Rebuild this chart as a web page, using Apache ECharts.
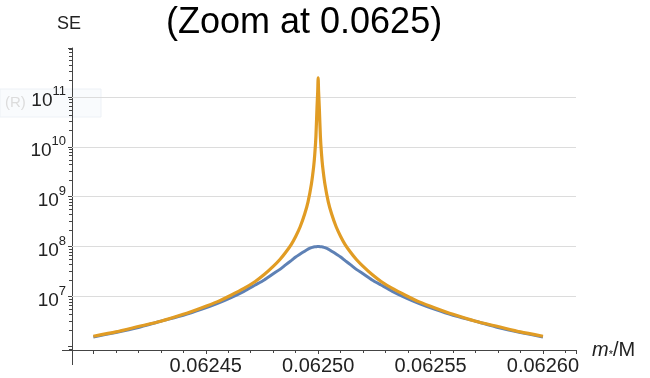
<!DOCTYPE html>
<html>
<head>
<meta charset="utf-8">
<script src="https://cdn.jsdelivr.net/npm/echarts@6/dist/echarts.min.js"></script>
<style>
	html, body { margin: 0; padding: 0; background: #fff; }
	#chart { width: 650px; height: 378px; }
</style>
</head>
<body>
<div id="chart"></div>
<script>
// distance from the centre 0.0625, in units of 1e-5 (curve is symmetric)
const offsets = [0, 0.02, 0.05, 0.1, 0.15, 0.2, 0.3, 0.45, 0.6, 0.8, 1.0, 1.2, 1.45, 1.7, 2.0, 2.4, 2.8, 3.3, 3.9, 4.5, 5.2, 6.0, 7.0, 8.0, 9.0, 10];
// SE values at those offsets
const seOrange = [2.4e11, 1.26e11, 6.3e10, 1.6e10, 7.1e9, 4.0e9, 1.8e9, 7.9e8, 4.5e8, 2.5e8, 1.6e8, 1.1e8, 7.6e7, 5.5e7, 4.0e7, 2.75e7, 2.0e7, 1.45e7, 1.05e7, 7.8e6, 5.9e6, 4.4e6, 3.2e6, 2.5e6, 1.95e6, 1.6e6];
const seBlue = [1.0e8, 1.0e8, 1.0e8, 9.9e7, 9.9e7, 9.8e7, 9.5e7, 8.9e7, 8.1e7, 7.1e7, 6.2e7, 5.25e7, 4.3e7, 3.5e7, 2.85e7, 2.15e7, 1.7e7, 1.27e7, 9.4e6, 7.2e6, 5.5e6, 4.2e6, 3.2e6, 2.4e6, 1.9e6, 1.55e6];
const centre = 0.0625;
const xTicks = [0.0624, 0.06245, 0.0625, 0.06255, 0.0626];
const xTickLabels = ['', '0.06245', '0.06250', '0.06255', '0.06260'];
const yTicks = [1e7, 1e8, 1e9, 1e10, 1e11];

// mirror the half curve around the centre
function curve(vals) {
	const pts = [];
	for (let i = offsets.length - 1; i > 0; i--) pts.push([centre - offsets[i] * 1e-5, vals[i]]);
	for (let i = 0; i < offsets.length; i++) pts.push([centre + offsets[i] * 1e-5, vals[i]]);
	return pts;
}

const myChart = echarts.init(document.getElementById('chart'));
const axisColor = '#444';
const font = 'Liberation Sans, Arial, sans-serif';

const option = {
	animation: false,
	title: {
		text: '(Zoom at 0.0625)',
		left: 161,
		top: 0,
		textStyle: { fontSize: 36, fontWeight: 'normal', color: '#000', fontFamily: font },
	},
	grid: { left: 72, right: 74, top: 48, bottom: 28 },
	xAxis: {
		type: 'value',
		min: 0.0623905,
		max: 0.0626147,
		splitLine: { show: false },
		axisLine: { show: true, lineStyle: { color: axisColor } },
		axisTick: { show: true, inside: false, length: 4, lineStyle: { color: axisColor, width: 1 } },
		minorTick: { show: true, splitNumber: 5, length: 3, lineStyle: { color: axisColor, width: 1 } },
		axisLabel: {
			margin: 6,
			fontSize: 20,
			color: '#222',
			fontFamily: font,
			formatter: function (v) {
				for (let i = 0; i < xTicks.length; i++) {
					if (Math.abs(v - xTicks[i]) < 1e-9) return xTickLabels[i];
				}
				return '';
			},
		},
		name: '{i|m}{sub|*}{n|/M}',
		nameLocation: 'end',
		nameGap: 16,
		nameTextStyle: {
			rich: {
				i: { fontSize: 20, fontStyle: 'italic', color: '#222', fontFamily: font },
				sub: { fontSize: 11, color: '#222', fontFamily: font, padding: [10, 0, 0, 0] },
				n: { fontSize: 20, color: '#222', fontFamily: font },
			},
		},
	},
	yAxis: {
		type: 'log',
		logBase: 10,
		min: 8.47e5,
		max: 9.55e11,
		splitLine: { show: false },
		axisLine: { show: true, lineStyle: { color: axisColor } },
		axisTick: { show: true, inside: false, length: 4, lineStyle: { color: axisColor, width: 1 } },
		minorTick: { show: true, splitNumber: 8, length: 3, lineStyle: { color: axisColor, width: 1 } },
		axisLabel: {
			margin: 6,
			fontFamily: font,
			formatter: function (v) {
				const e = Math.log10(v);
				const n = Math.round(e);
				if (Math.abs(e - n) > 1e-6 || n < 7 || n > 11) return '';
				return '{b|10}{s|' + n + '}';
			},
			rich: {
				b: { fontSize: 19, color: '#222', fontFamily: font, padding: [8, 0, 0, 0] },
				s: { fontSize: 13, color: '#222', fontFamily: font, verticalAlign: 'top', padding: [2, 0, 0, 0] },
			},
		},
		name: 'SE',
		nameLocation: 'end',
		nameGap: 15,
		nameTextStyle: { fontSize: 18, color: '#222', fontFamily: font, align: 'center', padding: [0, 6, 0, 0] },
	},
	graphic: [
		{
			type: 'rect',
			z: -10,
			shape: { x: 0, y: 89, width: 101, height: 28 },
			style: { fill: '#f9fbfd', stroke: '#edf1f6', lineWidth: 1 },
		},
		{
			type: 'text',
			z: -9,
			x: 5,
			y: 95,
			style: { text: '(R)', fill: '#dcdcdc', fontSize: 15, fontFamily: font },
		},
		{
			type: 'line',
			shape: { x1: 62, y1: 350.5, x2: 72, y2: 350.5 },
			style: { stroke: axisColor, lineWidth: 1 },
		},
		{
			type: 'line',
			shape: { x1: 72.5, y1: 350, x2: 72.5, y2: 365 },
			style: { stroke: axisColor, lineWidth: 1 },
		},
	],
	series: [
		{
			name: 'grid',
			type: 'line',
			data: [],
			silent: true,
			markLine: {
				z: 1,
				silent: true,
				symbol: 'none',
				label: { show: false },
				lineStyle: { type: 'solid', color: '#dcdcdc', width: 1 },
				emphasis: { disabled: true },
				data: xTicks.map((v) => ({ xAxis: v })).concat(yTicks.map((v) => ({ yAxis: v }))),
			},
		},
		{
			name: 'blue',
			type: 'line',
			z: 3,
			showSymbol: false,
			smooth: 0.2,
			data: curve(seBlue),
			lineStyle: { color: '#5e81b5', width: 3 },
			itemStyle: { color: '#5e81b5' },
		},
		{
			name: 'orange',
			type: 'line',
			z: 4,
			showSymbol: false,
			smooth: 0.2,
			data: curve(seOrange),
			lineStyle: { color: '#e19c24', width: 3.2 },
			itemStyle: { color: '#e19c24' },
		},
	],
};
myChart.setOption(option);
</script>
</body>
</html>
